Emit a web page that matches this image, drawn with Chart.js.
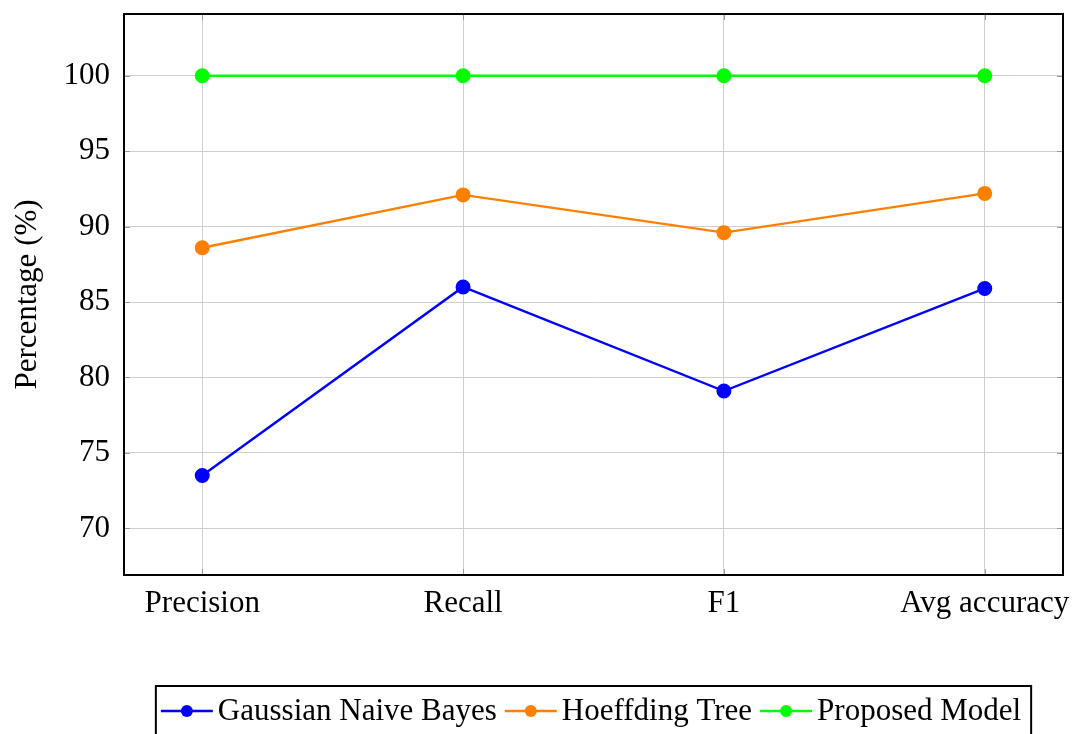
<!DOCTYPE html>
<html>
<head>
<meta charset="utf-8">
<script src="https://cdn.jsdelivr.net/npm/chart.js@4.4.1/dist/chart.umd.min.js"></script>
<style>
  html, body { margin: 0; padding: 0; background: #ffffff; }
  #wrap { width: 1075px; height: 734px; position: relative; }
</style>
</head>
<body>
<div id="wrap"><canvas id="chart" width="1075" height="734"></canvas></div>
<script>
// Metric names along the x axis
const categories = ['Precision', 'Recall', 'F1', 'Avg accuracy'];

// Scores (%) per model
const gaussianNB = [73.5, 86.0, 79.1, 85.9];
const hoeffdingTree = [88.6, 92.1, 89.6, 92.2];
const proposedModel = [100, 100, 100, 100];

// Y axis tick labels
const yTicks = [70, 75, 80, 85, 90, 95, 100];

const FONT = "'Liberation Serif', 'Times New Roman', serif";
const toPoints = arr => arr.map((v, i) => ({ x: i, y: v }));

function series(label, values, color) {
  return {
    label: label,
    data: toPoints(values),
    borderColor: color,
    backgroundColor: color,
    pointBackgroundColor: color,
    pointBorderColor: color,
    borderWidth: 2.4,
    pointRadius: 6.3,
    pointHoverRadius: 6.3,
    tension: 0,
    clip: false
  };
}

// Axis box with inward tick marks on all four sides
const frame = {
  id: 'frame',
  afterDatasetsDraw(chart) {
    const { ctx, chartArea: a, scales } = chart;
    ctx.save();
    ctx.strokeStyle = '#9a9a9a';
    ctx.lineWidth = 1;
    const t = 6;
    scales.y.ticks.forEach(tk => {
      const y = Math.round(scales.y.getPixelForValue(tk.value)) + 0.5;
      ctx.beginPath();
      ctx.moveTo(a.left, y); ctx.lineTo(a.left + t, y);
      ctx.moveTo(a.right, y); ctx.lineTo(a.right - t, y);
      ctx.stroke();
    });
    scales.x.ticks.forEach(tk => {
      const x = Math.round(scales.x.getPixelForValue(tk.value)) + 0.5;
      ctx.beginPath();
      ctx.moveTo(x, a.top); ctx.lineTo(x, a.top + t);
      ctx.moveTo(x, a.bottom); ctx.lineTo(x, a.bottom - t);
      ctx.stroke();
    });
    ctx.strokeStyle = '#000000';
    ctx.lineWidth = 2;
    ctx.strokeRect(a.left, a.top, a.right - a.left, a.bottom - a.top);
    ctx.restore();
  }
};

// Boxed legend below the plot: line + marker sample, then the label
const boxLegend = {
  id: 'boxLegend',
  afterDraw(chart) {
    const { ctx, chartArea: a } = chart;
    ctx.save();
    ctx.font = '31px ' + FONT;
    ctx.textBaseline = 'middle';
    const sample = 52, gapText = 5, gapItem = 8, padL = 5, padR = 10;
    const items = chart.data.datasets.map(ds => ({
      label: ds.label, color: ds.borderColor, w: ctx.measureText(ds.label).width
    }));
    let total = padL + padR;
    items.forEach((it, i) => {
      total += sample + gapText + it.w + (i < items.length - 1 ? gapItem : 0);
    });
    const cx = (a.left + a.right) / 2;
    const left = cx - total / 2;
    const top = 686, h = 52, cy = 711;
    ctx.strokeStyle = '#000000';
    ctx.lineWidth = 2;
    ctx.strokeRect(left, top, total, h);
    let x = left + padL;
    items.forEach(it => {
      ctx.strokeStyle = it.color;
      ctx.fillStyle = it.color;
      ctx.lineWidth = 2.4;
      ctx.beginPath();
      ctx.moveTo(x, cy); ctx.lineTo(x + sample, cy);
      ctx.stroke();
      ctx.beginPath();
      ctx.arc(x + sample / 2, cy, 6, 0, Math.PI * 2);
      ctx.fill();
      x += sample + gapText;
      ctx.fillStyle = '#000000';
      ctx.fillText(it.label, x, cy + 1);
      x += it.w + gapItem;
    });
    ctx.restore();
  }
};

new Chart(document.getElementById('chart'), {
  type: 'line',
  data: {
    datasets: [
      series('Gaussian Naive Bayes', gaussianNB, '#0000ff'),
      series('Hoeffding Tree', hoeffdingTree, '#ff8000'),
      series('Proposed Model', proposedModel, '#00ff00')
    ]
  },
  options: {
    responsive: false,
    animation: false,
    devicePixelRatio: 1,
    layout: { padding: { left: 0, right: 12, top: 14, bottom: 0 } },
    plugins: {
      legend: { display: false },
      tooltip: { enabled: false }
    },
    scales: {
      x: {
        type: 'linear',
        min: -0.3,
        max: 3.3,
        afterBuildTicks: s => { s.ticks = categories.map((_, i) => ({ value: i })); },
        afterFit: s => { s.height = 159; s.paddingLeft = 0; s.paddingRight = 0; },
        grid: { color: '#cfcfcf', lineWidth: 1, drawTicks: false },
        border: { display: false },
        ticks: {
          callback: v => categories[v],
          autoSkip: false,
          maxRotation: 0,
          padding: 10,
          color: '#000000',
          font: { family: FONT, size: 31 }
        }
      },
      y: {
        type: 'linear',
        min: 66.91,
        max: 104.09,
        afterBuildTicks: s => { s.ticks = yTicks.map(v => ({ value: v })); },
        afterFit: s => { s.width = 124; s.paddingTop = 0; s.paddingBottom = 0; },
        grid: { color: '#cfcfcf', lineWidth: 1, drawTicks: false },
        border: { display: false },
        ticks: {
          padding: 14,
          color: '#000000',
          font: { family: FONT, size: 31 }
        },
        title: {
          display: true,
          text: 'Percentage (%)',
          color: '#000000',
          font: { family: FONT, size: 31 },
          padding: { top: 9, bottom: 0 }
        }
      }
    }
  },
  plugins: [frame, boxLegend]
});
</script>
</body>
</html>
